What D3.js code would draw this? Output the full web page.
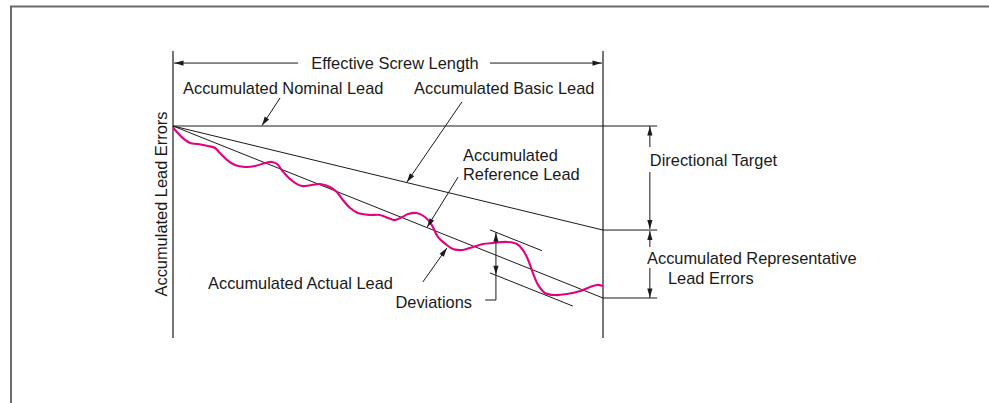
<!DOCTYPE html>
<html><head><meta charset="utf-8">
<script src="https://cdn.jsdelivr.net/npm/d3@7"></script>
<style>html,body{margin:0;padding:0;background:#fff;overflow:hidden}svg{display:block}</style>
</head><body>
<svg id="c" width="989" height="403"></svg>
<script>
// ---- data (x: % of effective screw length, y: accumulated lead error, arbitrary units) ----
const actualX = [0,0.5,2.8,4.0,5.8,8.1,9.8,10.9,12.6,14.4,16.7,19.1,21.4,23.0,24.2,25.3,26.7,28.4,30.0,32.3,34.2,36.5,38.1,39.5,41.2,43.0,45.8,48.1,50.0,51.6,53.3,54.7,56.7,58.6,60.2,61.6,63.7,65.1,67.4,69.8,72.1,74.4,77.7,80.0,81.4,82.6,83.7,84.9,86.5,88.8,91.6,94.7,97.0,98.6,100];
const actualY = [-0.6,-2.3,-8.1,-9.9,-10.5,-11.6,-12.8,-15.7,-19.8,-22.7,-23.8,-23.3,-21.5,-20.9,-22.1,-25.6,-29.7,-33.1,-34.9,-34.3,-33.7,-35.5,-38.4,-43.0,-47.7,-50.6,-51.7,-51.7,-53.5,-54.7,-52.9,-51.2,-50.6,-52.9,-57.6,-64.5,-69.2,-71.5,-72.1,-70.3,-68.6,-68.0,-67.4,-68.6,-72.1,-77.9,-85.5,-92.4,-97.1,-98.3,-97.7,-95.9,-93.6,-92.4,-93.0];
const nominalEnd = 0;        // accumulated nominal lead at end
const basicEnd = -60.5;      // accumulated basic lead (directional target) at end
const referenceEnd = -100;   // accumulated reference lead at end
const devUpper = 13.3;       // upper deviation envelope offset from reference
const devLower = -11.7;      // lower deviation envelope offset from reference
const labels = {
  length: "Effective Screw Length",
  nominal: "Accumulated Nominal Lead",
  basic: "Accumulated Basic Lead",
  reference: ["Accumulated", "Reference Lead"],
  actual: "Accumulated Actual Lead",
  deviations: "Deviations",
  target: "Directional Target",
  representative: ["Accumulated Representative", "Lead Errors"],
  yAxis: "Accumulated Lead Errors"
};

const svg = d3.select("#c");
const x = d3.scaleLinear().domain([0,100]).range([173,603]);
const y = d3.scaleLinear().domain([0,-100]).range([126,298]);
const ink = "#1a1a1a";
const fontSize = "16.4px";
const font = "'Liberation Sans', Arial, Helvetica, sans-serif";

// frame
svg.append("rect").attr("x",11).attr("y",6.5).attr("width",1100).attr("height",500)
  .attr("fill","none").attr("stroke","#6a6a6a").attr("stroke-width",2);

const g = svg.append("g");
function line(x1,y1,x2,y2,w){
  g.append("line").attr("x1",x1).attr("y1",y1).attr("x2",x2).attr("y2",y2)
   .attr("stroke",ink).attr("stroke-width",w||1);
}
function arrow(fx,fy,tx,ty,len,half){
  len = len||9; half = half||2.6;
  const dx=tx-fx, dy=ty-fy, d=Math.hypot(dx,dy), ux=dx/d, uy=dy/d;
  const bx=tx-ux*len, by=ty-uy*len;
  g.append("path").attr("d",`M${tx},${ty}L${bx-uy*half},${by+ux*half}L${bx+uy*half},${by-ux*half}Z`).attr("fill",ink);
}
function leader(fx,fy,tx,ty){ line(fx,fy,tx,ty,1); arrow(fx,fy,tx,ty); }
function text(t,px,py,anchor){
  return g.append("text").attr("x",px).attr("y",py).attr("font-family",font).attr("font-size",fontSize)
    .attr("fill",ink).attr("text-anchor",anchor||"start").text(t);
}

// vertical boundary lines of effective length
const yTop = 43.6, yBot = -123.3;
line(x(0),y(yTop),x(0),y(yBot),1.2);
line(x(100),y(yTop),x(100),y(yBot),1.2);

// effective screw length dimension
const ly = y(36.6);
line(x(0)+1,ly,x(29.1),ly,1); line(x(73.7),ly,x(100)-1,ly,1);
arrow(x(10),ly,x(0)+1.5,ly); arrow(x(90),ly,x(100)-1.5,ly);
text(labels.length,(x(29.1)+x(73.7))/2+1,ly+6,"middle");

// reference lines
const extX = 112.6;
line(x(0),y(0),x(extX),y(nominalEnd),1);
line(x(0),y(0),x(100),y(basicEnd),1); line(x(100),y(basicEnd),x(extX),y(basicEnd),1);
line(x(0),y(0),x(100),y(referenceEnd),1); line(x(100),y(referenceEnd),x(extX),y(referenceEnd),1);

// deviation envelope lines (parallel to reference)
const refAt = v => referenceEnd*v/100;
line(x(73.7),y(refAt(73.7)+devUpper),x(85.8),y(refAt(85.8)+devUpper),1);
line(x(73.7),y(refAt(73.7)+devLower),x(93.0),y(refAt(93.0)+devLower),1);

// actual lead curve
const pts = actualX.map((v,i)=>[v,actualY[i]]);
g.append("path").datum(pts)
  .attr("d",d3.line().x(d=>x(d[0])).y(d=>y(d[1])).curve(d3.curveCatmullRom.alpha(0.5)))
  .attr("fill","none").attr("stroke","#e4007f").attr("stroke-width",2.1);

// deviation dimension
const dx = 75.1;
const dTop = y(refAt(dx)+devUpper), dBot = y(refAt(dx)+devLower);
line(x(dx),dTop,x(dx),300,1);
line(x(72.6),300,x(dx),300,1);
arrow(x(dx),dTop+15,x(dx),dTop+0.5); arrow(x(dx),dBot-15,x(dx),dBot-0.5);
text(labels.deviations,472,308,"end");

// directional target dimension
const tx = x(110.9);
line(tx,y(0),tx,147,1); line(tx,172,tx,y(basicEnd)-1,1);
arrow(tx,y(0)+15,tx,y(0)+0.5); arrow(tx,y(basicEnd)-15,tx,y(basicEnd)-1);
text(labels.target,tx,166);

// representative lead error dimension
line(tx,y(basicEnd)+1,tx,247,1); line(tx,268,tx,y(referenceEnd),1);
arrow(tx,y(basicEnd)+15,tx,y(basicEnd)+1); arrow(tx,y(referenceEnd)-15,tx,y(referenceEnd)-0.5);
text(labels.representative[0],647,264);
text(labels.representative[1],668,283.5);

// leaders with labels
text(labels.nominal,183,94);
leader(x(24.9),y(16.3),x(20.7),y(0)-0.5);
text(labels.basic,414,94);
leader(x(67.2),y(14.0),x(54.4),y(basicEnd*54.4/100)-0.5);
text(labels.reference[0],463,160.5);
text(labels.reference[1],463,180);
leader(x(66.3),y(-29.7),x(59.1),y(refAt(59.1))-0.5);
text(labels.actual,208,289);
leader(x(58.1),y(-90.7),x(63.7),y(-70.9));

// y axis title
g.append("text").attr("transform",`translate(167,204) rotate(-90)`)
  .attr("font-family",font).attr("font-size",fontSize).attr("fill",ink)
  .attr("text-anchor","middle").text(labels.yAxis);
</script>
</body></html>
